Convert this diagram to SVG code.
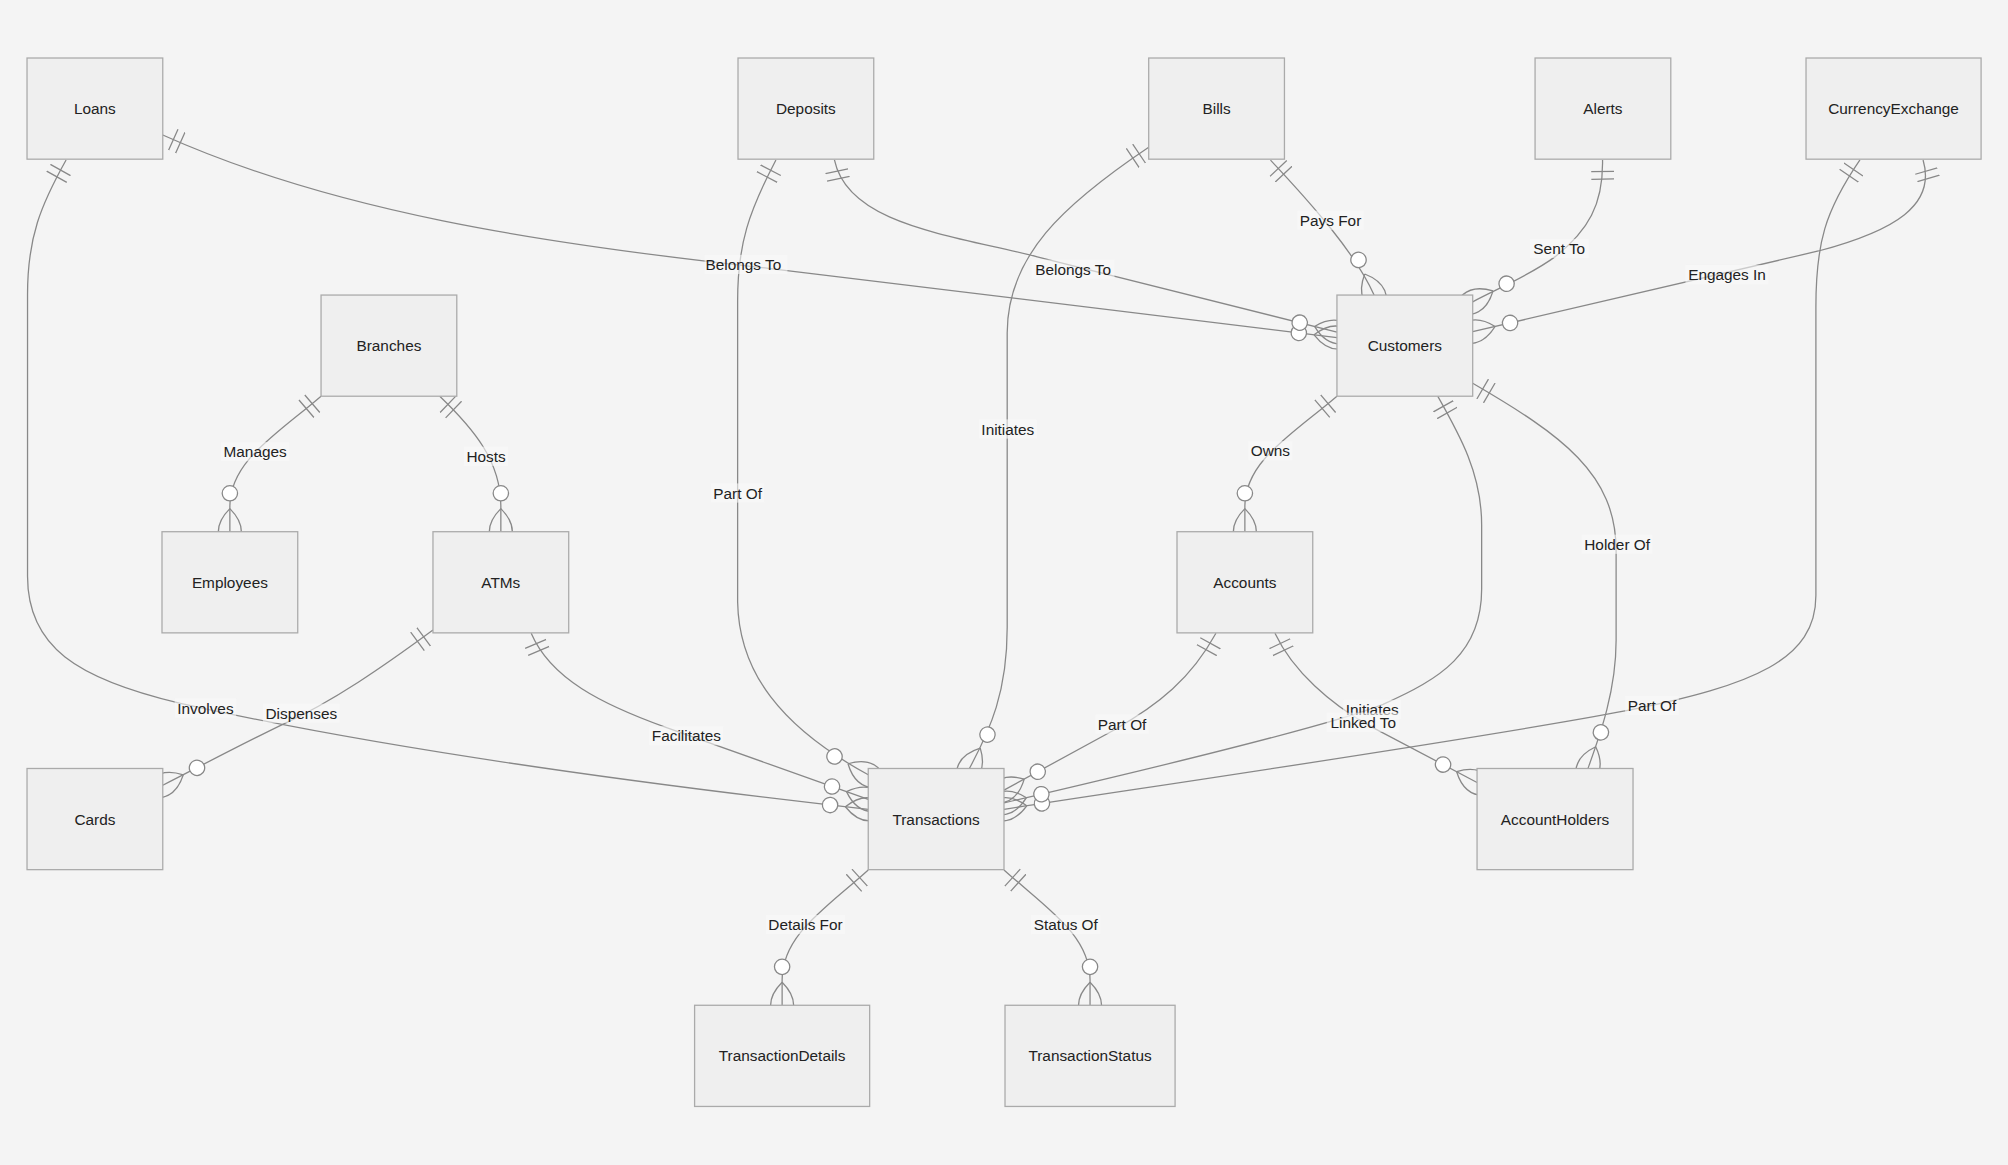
<svg xmlns="http://www.w3.org/2000/svg" width="2008" height="1165" viewBox="0 0 2008 1165">
<style>
.bg{fill:#f4f4f4}
.ent rect{fill:#efefef;stroke:#aaaaaa;stroke-width:1}
.ent text,.lbl text{font-family:"Liberation Sans",Arial,sans-serif;font-size:12px;fill:#222;text-anchor:middle;dominant-baseline:central}
.rel{fill:none;stroke:#888888;stroke-width:1;marker-start:url(#oneStart);marker-end:url(#zeroManyEnd)}
.lbl rect{fill:#f9f9f9;opacity:0.6}
.mk{fill:none;stroke:#888888;stroke-width:1}
.mkc{fill:#ffffff;stroke:#888888;stroke-width:1}
</style>
<defs>
<marker id="oneStart" refX="0" refY="9" markerWidth="18" markerHeight="18" orient="auto" markerUnits="strokeWidth">
<path class="mk" d="M9,0 L9,18 M15,0 L15,18"/>
</marker>
<marker id="zeroManyEnd" refX="39" refY="18" markerWidth="57" markerHeight="36" orient="auto" markerUnits="strokeWidth">
<circle class="mkc" cx="9" cy="18" r="6"/>
<path class="mk" d="M21,18 Q39,0 57,18 Q39,36 21,18"/>
</marker>
</defs>
<rect class="bg" x="0" y="0" width="2008" height="1165"/>
<g transform="scale(1.2806)">
<g id="connectors">
<path class="rel" d="M127.1,105.4 C260,165 420,190 600,209.5 L1044,263.6"/>
<path class="rel" d="M651.6,124.9 C662,175 740,183 810,200.5 L1044,259.3"/>
<path class="rel" d="M605.9,124.9 C585,165 576,190 576,235 L576,470 C577,525 610,568 678,605"/>
<path class="rel" d="M897,115 C830,160 786.5,200 786.5,260 L786.5,490 C786.5,540 773.6,569 757,600.1"/>
<path class="rel" d="M992.1,125 C1025,160 1058.8,198.4 1073,230.4"/>
<path class="rel" d="M1251.4,124.9 C1252,160 1240,180 1215,200 C1195,215 1170,225 1150,235.7"/>
<path class="rel" d="M1501.7,124.9 C1512,160 1480,180 1420,196 L1150,259"/>
<path class="rel" d="M1452.4,124.9 C1425,165 1418,190 1418,240 L1418,465 C1418,515 1370,535 1270,555 C1150,578 880,617 784,632"/>
<path class="rel" d="M250.7,309.4 C215,340 180,360 179.5,395 L179.5,415.2"/>
<path class="rel" d="M343.4,309.4 C370,335 391,360 391.1,395 L391.1,415.2"/>
<path class="rel" d="M1044,309.4 C1008,340 972.5,360 972.1,395 L972.1,415.2"/>
<path class="rel" d="M1122.7,309.4 C1140,340 1157,370 1157,410 L1157,460 C1157,510 1125,530 1080,550 C1040,566 900,600 784,627"/>
<path class="rel" d="M1150,299.3 C1220,340 1262,370 1262,430 L1262,500 C1262,540 1249,575 1240,600.1"/>
<path class="rel" d="M338.1,492 C300,520 260,548 220,566 C185,583 155,599 127.1,613.2"/>
<path class="rel" d="M414.8,494.5 C430,530 470,550 520,568 L678,624.2"/>
<path class="rel" d="M51.6,124.9 C32,160 21.5,185 21.5,230 L21.5,450 C21.5,505 60,530 140,549 C300,585 500,612 678,632"/>
<path class="rel" d="M949.5,494.5 C930,530 905,550 870,570 L784,617"/>
<path class="rel" d="M995.6,494.5 C1010,525 1040,550 1068,566 L1153.4,611"/>
<path class="rel" d="M678,679.3 C644,710 611,730 610.75,765 L610.75,785"/>
<path class="rel" d="M784,679.3 C818,710 851,730 851.2,765 L851.2,785"/>
<g class="lbl"><rect x="550.2" y="199" width="64.7" height="15"/><text x="580.5" y="206.5">Belongs To</text></g>
<g class="lbl"><rect x="805.6" y="202.7" width="64.7" height="15"/><text x="838" y="210.2">Belongs To</text></g>
<g class="lbl"><rect x="555" y="377.5" width="42" height="15"/><text x="576" y="385">Part Of</text></g>
<g class="lbl"><rect x="764.3" y="327.5" width="45.4" height="15"/><text x="787" y="335">Initiates</text></g>
<g class="lbl"><rect x="1013" y="164.5" width="52" height="15"/><text x="1039" y="172">Pays For</text></g>
<g class="lbl"><rect x="1194.6" y="186.5" width="46" height="15"/><text x="1217.6" y="194">Sent To</text></g>
<g class="lbl"><rect x="1316.2" y="206.9" width="64.7" height="15"/><text x="1348.6" y="214.4">Engages In</text></g>
<g class="lbl"><rect x="1269" y="543.5" width="42" height="15"/><text x="1290" y="551">Part Of</text></g>
<g class="lbl"><rect x="172.5" y="345.2" width="53.4" height="15"/><text x="199.2" y="352.7">Manages</text></g>
<g class="lbl"><rect x="362.2" y="348.8" width="34.7" height="15"/><text x="379.6" y="356.3">Hosts</text></g>
<g class="lbl"><rect x="974.6" y="344.5" width="34.7" height="15"/><text x="992" y="352">Owns</text></g>
<g class="lbl"><rect x="1048.8" y="546.5" width="45.4" height="15"/><text x="1071.5" y="554">Initiates</text></g>
<g class="lbl"><rect x="1036.1" y="556.5" width="56.7" height="15"/><text x="1064.5" y="564">Linked To</text></g>
<g class="lbl"><rect x="1235.1" y="417.5" width="55.3" height="15"/><text x="1262.8" y="425">Holder Of</text></g>
<g class="lbl"><rect x="205.3" y="549.5" width="60" height="15"/><text x="235.3" y="557">Dispenses</text></g>
<g class="lbl"><rect x="507" y="567" width="58" height="15"/><text x="536" y="574.5">Facilitates</text></g>
<g class="lbl"><rect x="136.4" y="545.5" width="48" height="15"/><text x="160.4" y="553">Involves</text></g>
<g class="lbl"><rect x="855.2" y="558" width="42" height="15"/><text x="876.2" y="565.5">Part Of</text></g>
<g class="lbl"><rect x="598" y="714.5" width="62" height="15"/><text x="629" y="722">Details For</text></g>
<g class="lbl"><rect x="805.3" y="714.5" width="54" height="15"/><text x="832.3" y="722">Status Of</text></g>
</g>
<g id="Loans" class="ent"><rect x="21.1" y="45.3" width="106" height="79"/><text x="74.1" y="84.8">Loans</text></g>
<g id="Deposits" class="ent"><rect x="576.3" y="45.3" width="106" height="79"/><text x="629.3" y="84.8">Deposits</text></g>
<g id="Bills" class="ent"><rect x="897" y="45.3" width="106" height="79"/><text x="950" y="84.8">Bills</text></g>
<g id="Alerts" class="ent"><rect x="1198.7" y="45.3" width="106" height="79"/><text x="1251.7" y="84.8">Alerts</text></g>
<g id="CurrencyExchange" class="ent"><rect x="1410.3" y="45.3" width="136.7" height="79"/><text x="1478.65" y="84.8">CurrencyExchange</text></g>
<g id="Branches" class="ent"><rect x="250.7" y="230.4" width="106" height="79"/><text x="303.7" y="269.9">Branches</text></g>
<g id="Customers" class="ent"><rect x="1044" y="230.4" width="106" height="79"/><text x="1097" y="269.9">Customers</text></g>
<g id="Employees" class="ent"><rect x="126.5" y="415.2" width="106" height="79"/><text x="179.5" y="454.7">Employees</text></g>
<g id="ATMs" class="ent"><rect x="338.1" y="415.2" width="106" height="79"/><text x="391.1" y="454.7">ATMs</text></g>
<g id="Accounts" class="ent"><rect x="919.1" y="415.2" width="106" height="79"/><text x="972.1" y="454.7">Accounts</text></g>
<g id="Cards" class="ent"><rect x="21.1" y="600.1" width="106" height="79"/><text x="74.1" y="639.6">Cards</text></g>
<g id="Transactions" class="ent"><rect x="678" y="600.1" width="106" height="79"/><text x="731" y="639.6">Transactions</text></g>
<g id="AccountHolders" class="ent"><rect x="1153.4" y="600.1" width="121.8" height="79"/><text x="1214.3" y="639.6">AccountHolders</text></g>
<g id="TransactionDetails" class="ent"><rect x="542.4" y="785" width="136.7" height="79"/><text x="610.75" y="824.5">TransactionDetails</text></g>
<g id="TransactionStatus" class="ent"><rect x="784.8" y="785" width="132.8" height="79"/><text x="851.2" y="824.5">TransactionStatus</text></g>
</g>
</svg>
